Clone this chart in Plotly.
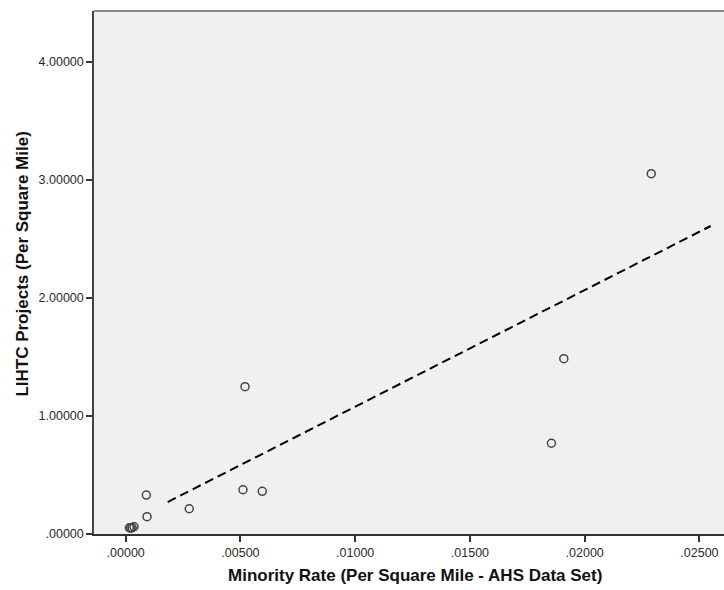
import plotly.graph_objects as go

# Data
minority_rate = [0.02290, 0.01909, 0.01855, 0.00520, 0.00511, 0.00595, 0.00277,
                 0.00090, 0.00093, 0.00016, 0.00028, 0.00036, 0.00022]
lihtc_projects = [3.053, 1.486, 0.769, 1.248, 0.375, 0.362, 0.214,
                  0.330, 0.147, 0.053, 0.053, 0.062, 0.050]

fit_x = [0.00183, 0.02549]
fit_y = [0.271, 2.610]

x_tick_vals = [0.0, 0.005, 0.010, 0.015, 0.020, 0.025]
x_tick_text = [".00000", ".00500", ".01000", ".01500", ".02000", ".02500"]
y_tick_vals = [0, 1, 2, 3, 4]
y_tick_text = [".00000", "1.00000", "2.00000", "3.00000", "4.00000"]

fig = go.Figure()
fig.add_trace(go.Scatter(
    x=fit_x, y=fit_y, mode="lines",
    line=dict(color="black", width=2, dash="9px,5px"),
    showlegend=False, hoverinfo="skip"))
fig.add_trace(go.Scatter(
    x=minority_rate, y=lihtc_projects, mode="markers",
    marker=dict(symbol="circle-open", size=8, color="#444444",
                line=dict(width=1.5, color="#444444")),
    showlegend=False))

font_family = "Liberation Sans, Arial, sans-serif"
fig.update_layout(
    width=724, height=590,
    margin=dict(l=94, r=0, t=11, b=56),
    paper_bgcolor="white",
    plot_bgcolor="#F0F0F0",
    font=dict(family=font_family, size=12.5, color="#2a2a2a"),
    xaxis=dict(range=[-0.001381, 0.026070], tickvals=x_tick_vals, ticktext=x_tick_text,
               showgrid=False, zeroline=False, showline=True, linecolor="#333333", linewidth=1.5,
               ticks="outside", ticklen=6, tickwidth=1.5, tickcolor="#333333",
               tickfont=dict(size=12.5, color="#2a2a2a")),
    yaxis=dict(range=[0, 4.432], tickvals=y_tick_vals, ticktext=y_tick_text,
               showgrid=False, zeroline=False, showline=True, linecolor="#444444", linewidth=1.5,
               ticks="outside", ticklen=6, tickwidth=1.5, tickcolor="#333333",
               tickfont=dict(size=12.5, color="#2a2a2a")),
    shapes=[dict(type="line", xref="paper", yref="paper", x0=0, x1=1, y0=1, y1=1,
                 line=dict(color="#888888", width=2))],
    annotations=[
        dict(text="<b>Minority Rate (Per Square Mile - AHS Data Set)</b>",
             xref="paper", yref="paper", x=0.5095, y=-0.0784,
             xanchor="center", yanchor="middle", showarrow=False,
             font=dict(size=17, color="#111111", family=font_family)),
        dict(text="<b>LIHTC Projects (Per Square Mile)</b>",
             xref="paper", yref="paper", x=-0.1127, y=0.517,
             xanchor="center", yanchor="middle", showarrow=False, textangle=-90,
             font=dict(size=17, color="#111111", family=font_family)),
    ],
)

fig.write_html("out.html")
